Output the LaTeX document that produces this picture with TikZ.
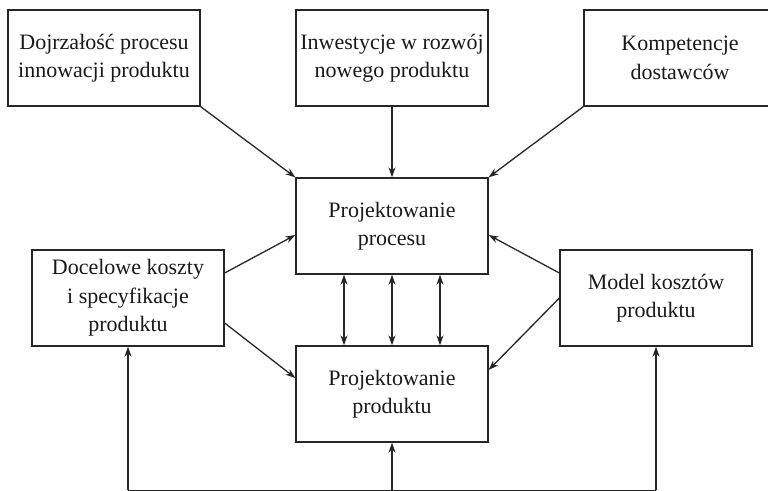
\documentclass[tikz,border=0pt]{standalone}
\usepackage{fontspec}
\setmainfont{Liberation Serif}
\usetikzlibrary{arrows.meta}
\begin{document}
\begin{tikzpicture}[x=1pt,y=-1pt,
  box/.style={draw=black!85, line width=1.3pt, minimum width=192pt, minimum height=96pt,
    inner sep=0pt, align=center, font=\fontsize{22}{28.5}\selectfont, text=black!90},
  arr/.style={draw=black!85, line width=1.3pt, -{Stealth[length=10pt,width=7pt]}},
  darr/.style={draw=black!85, line width=1.3pt, {Stealth[length=10pt,width=7pt]}-{Stealth[length=10pt,width=7pt]}},
  link/.style={draw=black!85, line width=1.3pt}]
\useasboundingbox (0,0) rectangle (768,490);
\clip (0,0) rectangle (768,490);
% top row of inputs
\node[box] (dojr) at (104,58) {Dojrzałość procesu\\innowacji produktu};
\node[box] (inw)  at (392,58) {Inwestycje w rozwój\\nowego produktu};
\node[box] (komp) at (680,58) {Kompetencje\\dostawców};
% design boxes
\node[box] (proc) at (392,226) {Projektowanie\\procesu};
\node[box] (prod) at (392,394) {Projektowanie\\produktu};
% side boxes
\node[box] (doc) at (128,298) {Docelowe koszty\\i specyfikacje\\produktu};
\node[box] (mod) at (656,298) {Model kosztów\\produktu};
% inputs into process design
\draw[arr] (dojr.south east) -- (proc.north west);
\draw[arr] (inw.south) -- (proc.north);
\draw[arr] (komp.south west) -- (proc.north east);
\draw[arr] ([yshift=25pt]doc.east) -- ([yshift=-9pt]proc.west);
\draw[arr] ([yshift=-25pt]doc.east) -- ([yshift=16pt]prod.west);
\draw[arr] ([yshift=25pt]mod.west) -- ([yshift=-9pt]proc.east);
\draw[arr] (mod.west) -- ([yshift=24pt]prod.east);
% two-way links between the design boxes
\foreach \dx in {-48,0,48}
  \draw[darr] ([xshift=\dx pt]proc.south) -- ([xshift=\dx pt]prod.north);
% feedback line along the bottom
\coordinate (bl) at (128,490.3);
\coordinate (bm) at (392,490.3);
\coordinate (br) at (656,490.3);
\draw[link] (bl) -- (br);
\draw[arr] (bl) -- (doc.south);
\draw[arr] (bm) -- (prod.south);
\draw[arr] (br) -- (mod.south);
\end{tikzpicture}
\end{document}
